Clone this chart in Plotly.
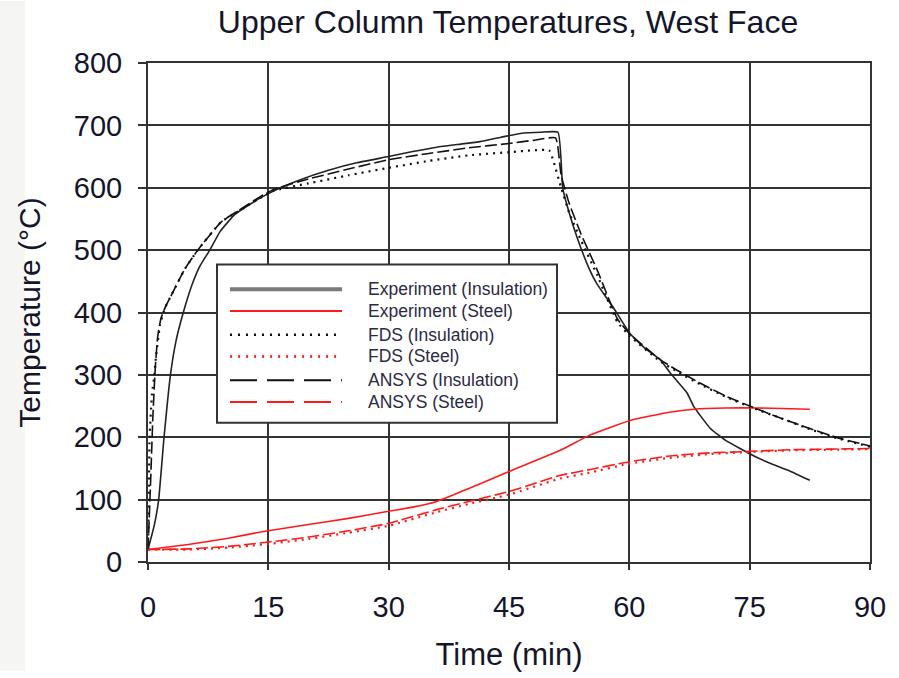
import plotly.graph_objects as go

# ---------------- data ----------------
exp_ins_t = [0, 0.8, 1.33, 2, 2.8, 3.5, 4.4, 5.5, 6.5, 7.7, 9, 10.8, 13.9, 16.5, 19, 22.5, 26, 30, 33, 36, 39, 41.4, 44, 46.4,
             49, 51.1, 51.7, 52.5, 53.5, 55, 56, 58, 60.1, 62, 63.8, 65.1, 67.2, 68, 70.1, 72, 73.8, 76, 78, 80, 82.5]
exp_ins_v = [20, 60, 100, 200, 300, 355, 400, 445, 475, 500, 530, 557, 583, 600, 613, 628, 640, 650, 658, 665, 670, 674, 681, 687,
             689, 689, 599, 560, 520, 470, 445, 408, 366, 342, 325, 303, 271, 250, 214, 195, 182, 167, 156, 146, 131]

fds_ins_t = [0, 0.1, 0.2, 0.5, 0.8, 1.0, 1.5, 2.1, 3, 4.6, 6.2, 9.1, 11.6, 13.9, 15.6, 20, 25, 30, 35, 40, 45, 50,
             50.6, 51.5, 52.5, 54, 56, 58.5, 60.1, 63.8, 66, 68.8, 72, 75.4, 79, 82.5, 86, 90]
fds_ins_v = [20, 100, 200, 270, 300, 330, 380, 407, 430, 470, 500, 545, 565, 583, 595, 607, 620, 632, 643, 652, 657, 660,
             640, 600, 560, 515, 460, 385, 362, 322, 305, 285, 265, 247, 230, 213, 198, 185]

ansys_ins_t = [0, 0.3, 0.6, 0.9, 1.2, 1.6, 2.1, 3, 4.6, 6.2, 9.1, 11.6, 13.9, 15.6, 20, 25, 30, 35, 40, 45, 48, 50.8,
               51.5, 52.5, 54, 56, 58.5, 60.1, 63.8, 66, 68.8, 72, 75.4, 79, 82.5, 86, 90]
ansys_ins_v = [20, 120, 230, 310, 360, 390, 407, 430, 470, 500, 545, 566, 585, 597, 614, 630, 645, 655, 664, 671, 676, 680,
               620, 575, 525, 468, 390, 365, 325, 307, 287, 266, 248, 230, 214, 199, 186]

exp_st_t = [0, 5, 10, 14.4, 20, 25, 29.8, 33, 36, 40, 45, 51.4, 55, 60.1, 65, 68, 72, 76, 82.5]
exp_st_v = [20, 28, 38, 49, 60, 70, 81, 88, 97, 118, 145, 179, 203, 227, 240, 245, 247, 247, 245]

fds_st_t = [0, 5, 10, 15, 20, 25, 30, 36, 40, 45, 51.4, 55, 59.7, 65, 70, 74.4, 80, 85, 90]
fds_st_v = [20, 20, 23, 29, 37, 47, 58, 80, 93, 108, 134, 143, 157, 167, 173, 176, 179, 180, 181]

ansys_st_t = [0, 5, 10, 15, 20, 25, 30, 36, 40, 45, 51.4, 55, 59.7, 65, 70, 74.4, 80, 85, 90]
ansys_st_v = [20, 21, 25, 32, 40, 50, 62, 84, 97, 113, 139, 148, 160, 170, 175, 177, 180, 181, 182]

x_ticks = [0, 15, 30, 45, 60, 75, 90]
y_ticks = [0, 100, 200, 300, 400, 500, 600, 700, 800]

series_names = ["Experiment (Insulation)", "Experiment (Steel)", "FDS (Insulation)",
                "FDS (Steel)", "ANSYS (Insulation)", "ANSYS (Steel)"]

# ---------------- figure ----------------
FONT = "Liberation Sans, Arial, sans-serif"
TXT = "#15152a"

fig = go.Figure()
traces = [
    (exp_ins_t, exp_ins_v, "#222222", 1.6, "solid"),
    (exp_st_t, exp_st_v, "#ff1a1a", 1.6, "solid"),
    (fds_ins_t, fds_ins_v, "#111111", 2.2, "2px,5px"),
    (fds_st_t, fds_st_v, "#ff1a1a", 2.2, "2px,5px"),
    (ansys_ins_t, ansys_ins_v, "#111111", 1.6, "12px,4px"),
    (ansys_st_t, ansys_st_v, "#ff1a1a", 1.6, "12px,4px"),
]
for (t, v, c, w, d), name in zip(traces, series_names):
    fig.add_trace(go.Scatter(x=t, y=v, mode="lines", name=name,
                             line=dict(color=c, width=w, dash=d, shape="spline", smoothing=0.4),
                             showlegend=False))

W, H = 899, 678
ML, MR, MT, MB = 148, 29, 63, 110
PW, PH = W - ML - MR, H - MT - MB


def px_x(px):
    return (px - ML) / PW


def px_y(py):
    return (H - MB - py) / PH


shapes = []
annotations = []

# left grey strip of the page
shapes.append(dict(type="rect", xref="paper", yref="paper", x0=px_x(0), x1=px_x(25),
                   y0=px_y(H), y1=px_y(0), fillcolor="#f5f5f3", line=dict(width=0), layer="below"))

# legend box (custom, for long line samples)
shapes.append(dict(type="rect", xref="paper", yref="paper", x0=px_x(217), x1=px_x(557),
                   y0=px_y(427), y1=px_y(267), fillcolor="white", line=dict(color="#333", width=2),
                   layer="above"))
legend_styles = [
    ("#7a7a7a", 4, "solid"),
    ("#ff1a1a", 2, "solid"),
    ("#111111", 2.5, "2px,6px"),
    ("#ff1a1a", 2.5, "2px,6px"),
    ("#111111", 2, "27px,10px"),
    ("#ff1a1a", 2, "27px,10px"),
]
rows_y = [292, 314, 338, 360, 384, 406]
for (c, w, d), name, ry in zip(legend_styles, series_names, rows_y):
    shapes.append(dict(type="line", xref="paper", yref="paper", x0=px_x(230), x1=px_x(342),
                       y0=px_y(ry), y1=px_y(ry), line=dict(color=c, width=w, dash=d), layer="above"))
    annotations.append(dict(xref="paper", yref="paper", x=px_x(366), y=px_y(ry), text=name,
                            showarrow=False, xanchor="left", yanchor="middle",
                            font=dict(family=FONT, size=17.5, color="#2a2a45")))

fig.update_layout(
    width=W, height=H,
    margin=dict(l=ML, r=MR, t=MT, b=MB),
    paper_bgcolor="white", plot_bgcolor="white",
    title=dict(text="Upper Column Temperatures, West Face", x=px_x(508), xref="paper",
               y=1 - 22 / H, yref="container", xanchor="center", yanchor="middle",
               font=dict(family=FONT, size=32, color=TXT)),
    shapes=shapes, annotations=annotations,
    showlegend=False,
    font=dict(family=FONT, color=TXT),
)
axis_common = dict(showgrid=True, gridcolor="#333333", gridwidth=2, showline=True, linecolor="#333333",
                   linewidth=2, mirror=True, zeroline=False, ticks="outside", tickcolor="#333333",
                   tickwidth=2, tickfont=dict(family=FONT, size=29, color=TXT))
fig.update_xaxes(range=[0, 90], tickvals=x_ticks, ticklen=6, ticklabelstandoff=12,
                 title=dict(text="Time (min)", font=dict(family=FONT, size=31, color=TXT), standoff=22),
                 **axis_common)
fig.update_yaxes(range=[0, 800], tickvals=y_ticks, ticklen=8, ticklabelstandoff=10,
                 title=dict(text="Temperature (°C)", font=dict(family=FONT, size=30, color=TXT), standoff=24),
                 **axis_common)

fig.write_html("out.html")
